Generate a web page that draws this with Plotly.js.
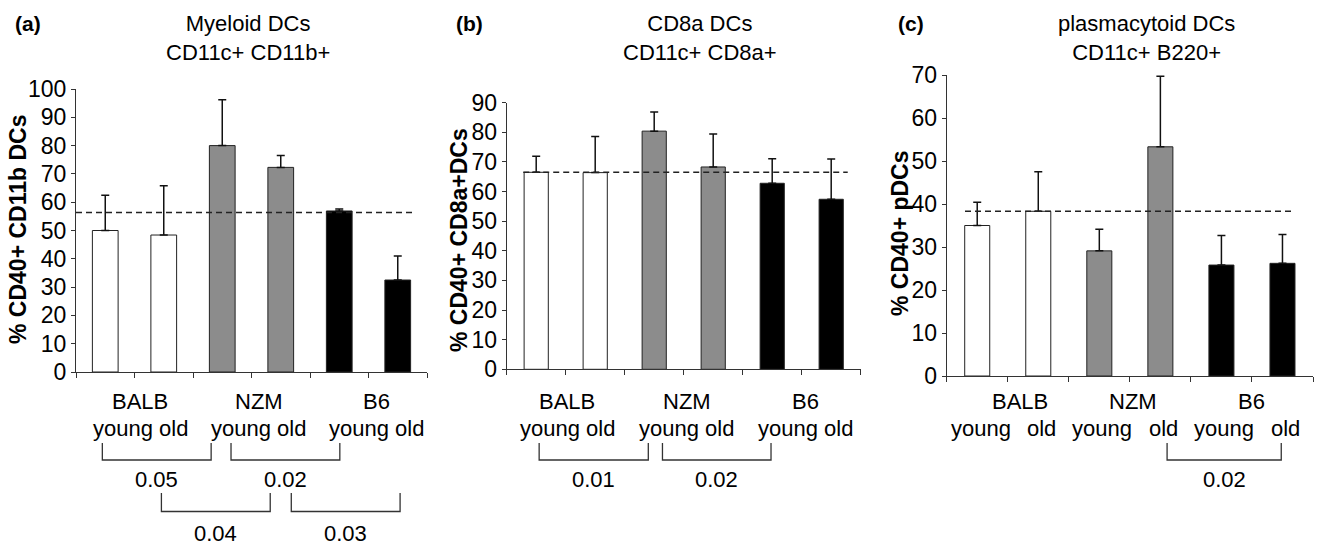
<!DOCTYPE html>
<html>
<head>
<meta charset="utf-8">
<script src="https://cdn.plot.ly/plotly-3.0.1.min.js"></script>
<style>html,body{margin:0;padding:0;background:#fff}#chart{width:1317px;height:546px}</style>
</head>
<body>
<div id="chart"></div>
<script>
// ---------- data ----------
const strains = ["BALB", "NZM", "B6"];
const ages = ["young", "old"];
const categories = ["BALB young", "BALB old", "NZM young", "NZM old", "B6 young", "B6 old"];

const myeloidMean = [50.0, 48.4, 80.0, 72.3, 56.9, 32.5];
const myeloidErr  = [12.5, 17.4, 16.2, 4.2, 0.7, 8.5];
const myeloidRef  = 56.4;
const myeloidP    = ["0.05", "0.02", "0.04", "0.03"];

const cd8Mean = [66.5, 66.4, 80.4, 68.3, 62.8, 57.4];
const cd8Err  = [5.4, 12.2, 6.5, 11.1, 8.3, 13.6];
const cd8Ref  = 66.5;
const cd8P    = ["0.01", "0.02"];

const pdcMean = [35.0, 38.3, 29.1, 53.3, 25.8, 26.2];
const pdcErr  = [5.4, 9.2, 5.0, 16.4, 6.9, 6.7];
const pdcRef  = 38.3;
const pdcP    = ["0.02"];

const yTitles = ["% CD40+ CD11b DCs", "% CD40+ CD8a+DCs", "% CD40+ pDCs"];
const panelTitles = ["Myeloid DCs<br>CD11c+ CD11b+", "CD8a DCs<br>CD11c+ CD8a+", "plasmacytoid DCs<br>CD11c+ B220+"];
const panelTags = ["(a)", "(b)", "(c)"];

// ---------- layout helpers ----------
const W = 1317, H = 546;
const px = x => x / W;
const py = y => 1 - y / H;
const FONT = "Liberation Sans, Arial, Helvetica, sans-serif";
const TXT = "#000";
const fillColors = ["#ffffff", "#ffffff", "#8c8c8c", "#8c8c8c", "#000000", "#000000"];

const panels = [
  {mean: myeloidMean, err: myeloidErr, ref: myeloidRef, pv: myeloidP,
   xpix: [76, 427], ypix: [372, 89], yrange: [0, 100], dtick: 10, barw: 0.44,
   refx: [-0.5, 5.3], title: 248, tag: 28, ytx: 18, yty: 230, labelShift: [0.1, 0.12, 0.14],
   brackets: [[-0.05, 1.81, 0], [2.15, 4.01, 0], [0.96, 2.82, 1], [3.18, 5.04, 1]]},
  {mean: cd8Mean, err: cd8Err, ref: cd8Ref, pv: cd8P,
   xpix: [506.7, 860.7], ypix: [369.3, 102.7], yrange: [0, 90], dtick: 10, barw: 0.41,
   refx: [-0.22, 5.28], title: 700, tag: 469, ytx: 459, yty: 240, labelShift: [0.03, 0.05, 0.06],
   brackets: [[0.05, 1.9, 0], [2.14, 3.98, 0]]},
  {mean: pdcMean, err: pdcErr, ref: pdcRef, pv: pdcP,
   xpix: [946.7, 1313], ypix: [376, 75], yrange: [0, 70], dtick: 10, barw: 0.41,
   refx: [-0.2, 5.18], title: 1146.7, tag: 911, ytx: 900, yty: 233, labelShift: [0.2, 0.05, 0.0],
   brackets: [[3.11, 4.98, 0]]}
];

const traces = [];
const layout = {
  width: W, height: H,
  margin: {l: 0, r: 0, t: 0, b: 0},
  paper_bgcolor: "#fff", plot_bgcolor: "rgba(0,0,0,0)",
  showlegend: false,
  font: {family: FONT, size: 22, color: TXT},
  shapes: [], annotations: []
};

panels.forEach((p, i) => {
  const n = i + 1;
  const xa = "x" + (n === 1 ? "" : n), ya = "y" + (n === 1 ? "" : n);
  const xKey = "xaxis" + (n === 1 ? "" : n), yKey = "yaxis" + (n === 1 ? "" : n);
  const xs = categories.map((_, k) => k);

  traces.push({
    type: "bar", x: xs, y: p.mean, xaxis: xa, yaxis: ya, width: p.barw,
    hovertext: categories, hoverinfo: "text+y", textposition: "none",
    marker: {color: fillColors, line: {color: "#222", width: 1}},
    error_y: {type: "data", symmetric: false, array: p.err, arrayminus: p.err.map(() => 0),
              color: "#111", thickness: 1.5, width: 4}
  });

  layout[xKey] = {
    domain: [px(p.xpix[0]), px(p.xpix[1])], anchor: ya, range: [-0.5, 5.5],
    showline: true, linecolor: "#333", linewidth: 1, zeroline: false, showgrid: false,
    tickmode: "array", tickvals: [-0.5, 0.5, 1.5, 2.5, 3.5, 4.5, 5.5], showticklabels: false,
    ticks: "outside", ticklen: 5, tickcolor: "#333", fixedrange: true
  };
  layout[yKey] = {
    domain: [py(p.ypix[0]), py(p.ypix[1])], anchor: xa, range: p.yrange,
    showline: true, linecolor: "#333", linewidth: 1, zeroline: false, showgrid: false,
    dtick: p.dtick, tick0: 0, ticks: "outside", ticklen: 4, tickcolor: "#333",
    tickfont: {family: FONT, size: 23, color: TXT}, fixedrange: true
  };

  // reference dashed line at group mean
  layout.shapes.push({type: "line", xref: xa, yref: ya, x0: p.refx[0], x1: p.refx[1], y0: p.ref, y1: p.ref,
    line: {color: "#222", width: 1.5, dash: "6px,4px"}});

  // titles
  layout.annotations.push({xref: "paper", yref: "paper", x: px(p.title), y: py(38.5), text: panelTitles[i],
    showarrow: false, xanchor: "center", yanchor: "middle", font: {size: 22, color: TXT}});
  layout.annotations.push({xref: "paper", yref: "paper", x: px(p.tag), y: py(24), text: "<b>" + panelTags[i] + "</b>",
    showarrow: false, xanchor: "center", yanchor: "middle", font: {size: 21, color: TXT}});
  layout.annotations.push({xref: "paper", yref: "paper", x: px(p.ytx), y: py(p.yty), text: "<b>" + yTitles[i] + "</b>",
    showarrow: false, textangle: -90, xanchor: "center", yanchor: "middle", font: {size: 23, color: TXT}});

  // group labels below the axis
  strains.forEach((s, g) => {
    const cx = 2 * g + 0.5 + p.labelShift[g];
    layout.annotations.push({xref: xa, yref: "paper", x: cx, y: py(401.5), text: s,
      showarrow: false, xanchor: "center", yanchor: "middle", font: {size: 22, color: TXT}});
    if (i < 2) {
      layout.annotations.push({xref: xa, yref: "paper", x: cx, y: py(428), text: ages.join(" "),
        showarrow: false, xanchor: "center", yanchor: "middle", font: {size: 22, color: TXT}});
    }
  });
  if (i === 2) {
    categories.forEach((c, k) => {
      const age = ages[k % 2];
      layout.annotations.push({xref: xa, yref: "paper", x: k + (k === 0 ? 0.07 : 0.05), y: py(428), text: age,
        showarrow: false, xanchor: "center", yanchor: "middle", font: {size: 22, color: TXT}});
    });
  }

  // significance brackets
  p.brackets.forEach((b, j) => {
    const top = b[2] === 0 ? 443 : 493, bot = b[2] === 0 ? 460 : 511.5, lab = b[2] === 0 ? 479 : 533;
    const ln = {color: "#333", width: 1.3};
    layout.shapes.push({type: "path", xref: xa, yref: "paper",
      path: `M ${b[0]},${py(top)} L ${b[0]},${py(bot)} L ${b[1]},${py(bot)} L ${b[1]},${py(top)}`, line: ln});
    layout.annotations.push({xref: xa, yref: "paper", x: (b[0] + b[1]) / 2, y: py(lab), text: p.pv[j],
      showarrow: false, xanchor: "center", yanchor: "middle", font: {size: 22, color: TXT}});
  });
});

Plotly.newPlot("chart", traces, layout, {displayModeBar: false, staticPlot: true});
</script>
</body>
</html>
